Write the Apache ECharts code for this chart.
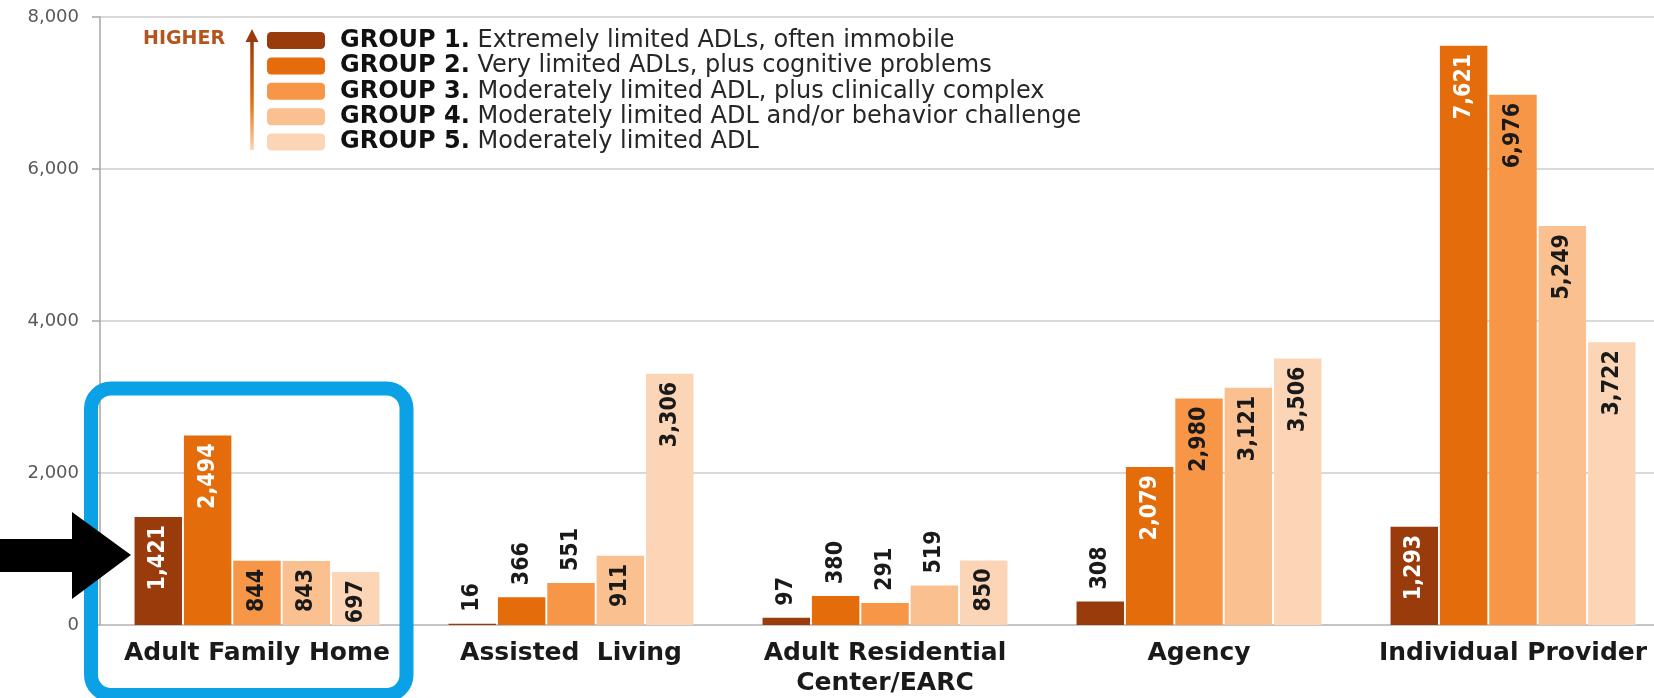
<!DOCTYPE html>
<html>
<head>
<meta charset="utf-8">
<title>Clients by setting and acuity group</title>
<script src="https://cdn.jsdelivr.net/npm/echarts@6.0.0/dist/echarts.min.js"></script>
<style>
  html, body { margin: 0; padding: 0; background: #fff; }
  #chart { width: 1654px; height: 698px; }
</style>
</head>
<body>
<div id="chart"></div>
<script>
// values
var settings = ['Adult Family Home', 'Assisted  Living', 'Adult Residential\nCenter/EARC', 'Agency', 'Individual Provider']
var groupNames = ['GROUP 1.', 'GROUP 2.', 'GROUP 3.', 'GROUP 4.', 'GROUP 5.']
var groupNotes = [
  'Extremely limited ADLs, often immobile',
  'Very limited ADLs, plus cognitive problems',
  'Moderately limited ADL, plus clinically complex',
  'Moderately limited ADL and/or behavior challenge',
  'Moderately limited ADL'
]
var group1 = [1421, 16, 97, 308, 1293]
var group2 = [2494, 366, 380, 2079, 7621]
var group3 = [844, 551, 291, 2980, 6976]
var group4 = [843, 911, 519, 3121, 5249]
var group5 = [697, 3306, 850, 3506, 3722]
var yTicks = [0, 2000, 4000, 6000, 8000]

var groups = [group1, group2, group3, group4, group5]
var colors = ['#9a3b0c', '#e46c0a', '#f79646', '#fac090', '#fbd5b5']
var legendSize = 24

// small bars get their label above the bar, the rest inside near the top
function barData(values, g) {
  return values.map(function (v) {
    var inside = v >= 650
    return {
      value: v,
      label: inside ? {
        position: 'insideTop',
        distance: 8,
        align: 'right',
        color: g < 2 ? '#ffffff' : '#1a1a1a'
      } : {
        position: 'top',
        distance: 12,
        align: 'left',
        color: '#1a1a1a'
      }
    }
  })
}

var series = groups.map(function (vals, g) {
  return {
    name: groupNames[g],
    type: 'bar',
    data: barData(vals, g),
    barGap: '4%',
    barCategoryGap: '22%',
    itemStyle: { color: colors[g] },
    label: {
      show: true,
      rotate: 90,
      verticalAlign: 'middle',
      fontFamily: '"DejaVu Sans Condensed", sans-serif',
      fontWeight: 'bold',
      fontSize: 23,
      formatter: function (p) { return p.value.toLocaleString('en-US') }
    }
  }
})

var myChart = echarts.init(document.getElementById('chart'))
var option = {
  animation: false,
  backgroundColor: '#ffffff',
  grid: { left: 100, top: 17, width: 1570, height: 608, outerBoundsMode: 'none', containLabel: false },
  legend: {
    orient: 'vertical',
    left: 267,
    top: 28.5,
    padding: 0,
    itemWidth: 58,
    itemHeight: 17,
    itemGap: 25.4 - legendSize,
    icon: 'roundRect',
    selectedMode: false,
    data: groupNames,
    formatter: function (name) {
      return '{b|' + name + '} ' + groupNotes[groupNames.indexOf(name)]
    },
    textStyle: {
      fontFamily: 'DejaVu Sans',
      fontSize: legendSize,
      color: '#262626',
      padding: [0, 0, 0, 10],
      rich: {
        b: { fontFamily: 'DejaVu Sans', fontWeight: 'bold', fontSize: legendSize, color: '#111111' }
      }
    }
  },
  xAxis: {
    type: 'category',
    data: settings,
    axisLine: { lineStyle: { color: '#bfbfbf', width: 1.5 } },
    axisTick: { show: false },
    axisLabel: {
      interval: 0,
      margin: 13,
      fontFamily: 'DejaVu Sans',
      fontWeight: 'bold',
      fontSize: 25,
      lineHeight: 30,
      color: '#1a1a1a'
    }
  },
  yAxis: {
    type: 'value',
    min: yTicks[0],
    max: yTicks[yTicks.length - 1],
    interval: yTicks[1] - yTicks[0],
    axisLine: { show: true, lineStyle: { color: '#a6a6a6', width: 1.5 } },
    axisTick: { show: true, length: 8, lineStyle: { color: '#a6a6a6', width: 1.5 } },
    splitLine: { lineStyle: { color: '#d9d9d9', width: 2 } },
    axisLabel: {
      margin: 21,
      fontFamily: 'DejaVu Sans',
      fontSize: 18,
      color: '#595959',
      formatter: function (v) { return v.toLocaleString('en-US') }
    }
  },
  graphic: [
    // blue highlight box round the first setting
    {
      type: 'rect',
      z: 10,
      shape: { x: 91, y: 388.5, width: 315.5, height: 306.5, r: 20 },
      style: { fill: 'none', stroke: '#0ba1e6', lineWidth: 14 }
    },
    // black pointer
    {
      type: 'polygon',
      z: 11,
      shape: { points: [[0, 539], [72, 539], [72, 512], [131, 555], [72, 599], [72, 572], [0, 572]] },
      style: { fill: '#000000' }
    },
    {
      type: 'text',
      x: 143,
      y: 39,
      style: {
        text: 'HIGHER',
        fill: '#b4541e',
        fontFamily: 'DejaVu Sans',
        fontWeight: 'bold',
        fontSize: 19,
        verticalAlign: 'middle'
      }
    },
    {
      type: 'line',
      shape: { x1: 252, y1: 150, x2: 252, y2: 40 },
      style: {
        lineWidth: 3.5,
        stroke: {
          type: 'linear', x: 0, y: 40, x2: 0, y2: 150, global: true,
          colorStops: [
            { offset: 0, color: '#9a3b0c' },
            { offset: 0.55, color: '#e46c0a' },
            { offset: 1, color: '#fbd5b5' }
          ]
        }
      }
    },
    {
      type: 'polygon',
      shape: { points: [[252, 29], [245.5, 42], [258.5, 42]] },
      style: { fill: '#9a3b0c' }
    }
  ],
  series: series
}
myChart.setOption(option)
</script>
</body>
</html>
